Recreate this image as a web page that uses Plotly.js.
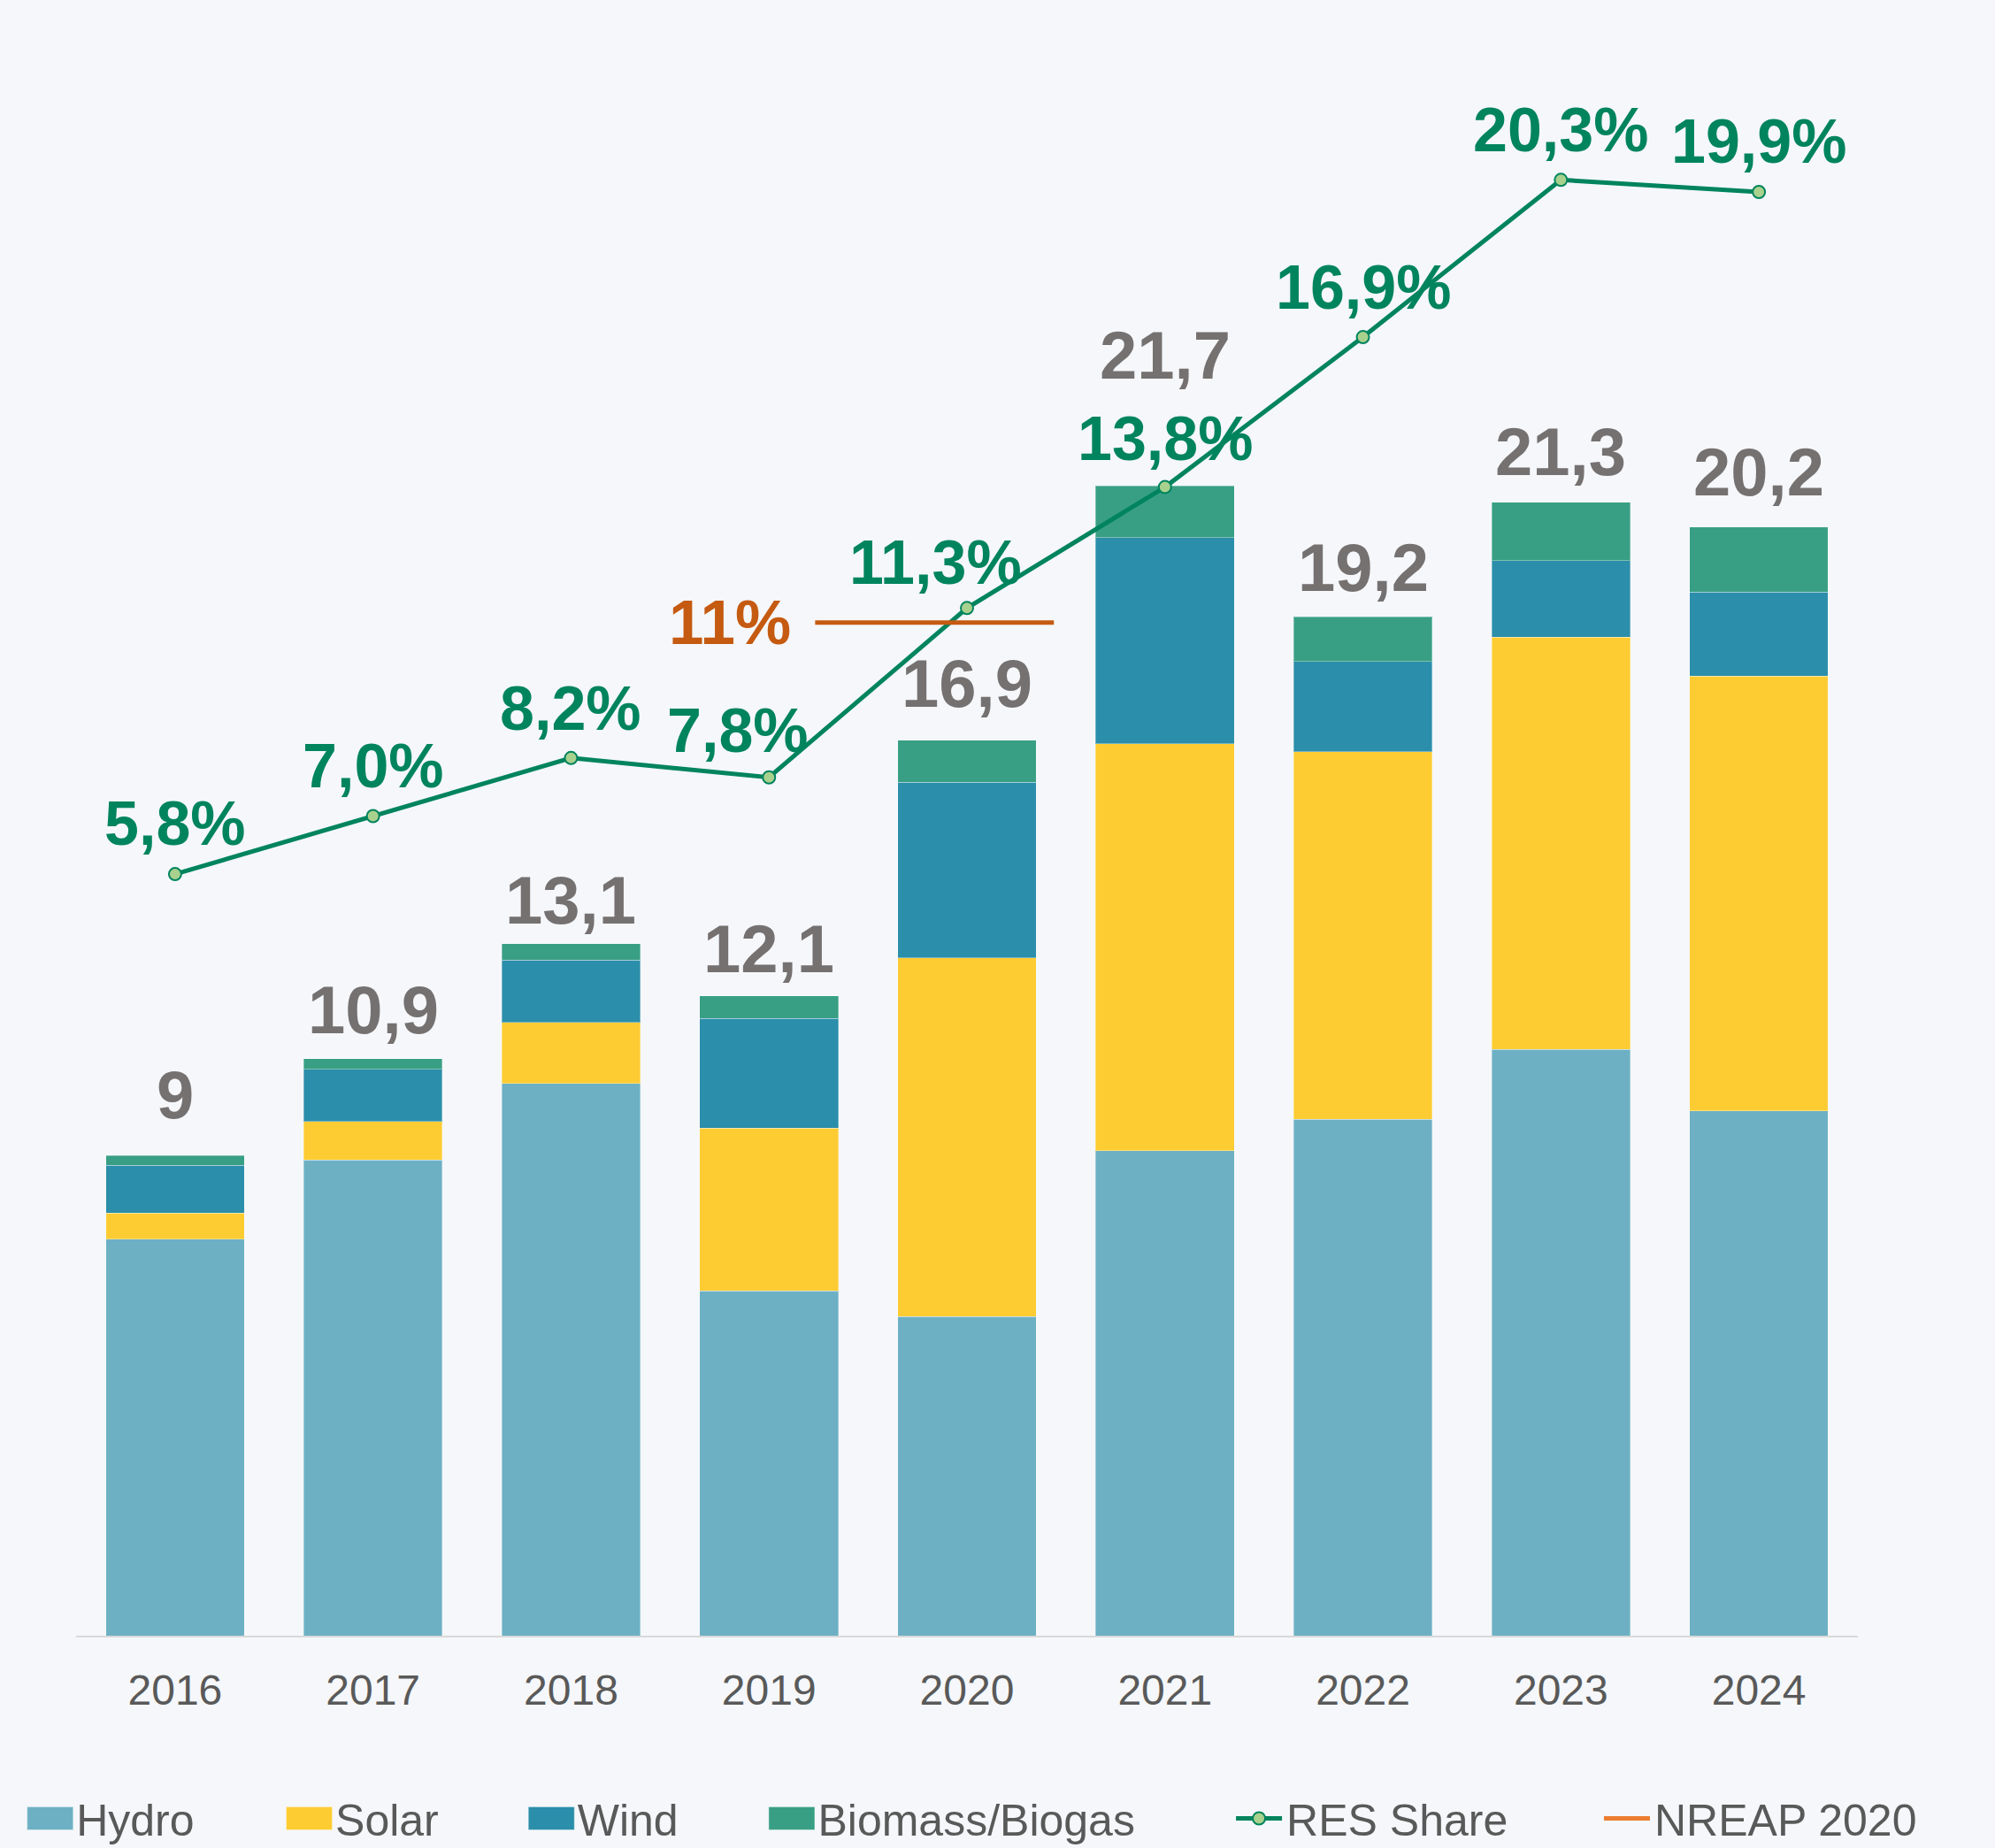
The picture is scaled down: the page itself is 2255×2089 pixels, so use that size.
<!DOCTYPE html>
<html>
<head>
<meta charset="utf-8">
<script src="https://cdn.plot.ly/plotly-3.0.1.min.js"></script>
<style>
  html, body { margin: 0; padding: 0; background: #F5F7FA; }
  #chart { width: 2255px; height: 2089px; }
</style>
</head>
<body>
<div id="chart"></div>
<script>
// ---------------- data ----------------
const years = ['2016', '2017', '2018', '2019', '2020', '2021', '2022', '2023', '2024'];
const hydro   = [7.47, 8.96, 10.40, 6.49, 6.01, 9.13, 9.72, 11.04, 9.88];
const solar   = [0.49, 0.72, 1.15, 3.07, 6.75, 7.66, 6.92, 7.76, 8.19];
const wind    = [0.90, 0.98, 1.17, 2.06, 3.31, 3.88, 1.70, 1.44, 1.58];
const biomass = [0.18, 0.20, 0.31, 0.43, 0.79, 0.98, 0.84, 1.10, 1.22];
const totalLabels = ['9', '10,9', '13,1', '12,1', '16,9', '21,7', '19,2', '21,3', '20,2'];
const resShare  = [5.8, 7.0, 8.2, 7.8, 11.3, 13.8, 16.9, 20.15, 19.9];
const resLabels = ['5,8%', '7,0%', '8,2%', '7,8%', '11,3%', '13,8%', '16,9%', '20,3%', '19,9%'];
const nreapTarget = 11;
const nreapLabel = '11%';
const nreapYear = '2020';

// ---------------- styles ----------------
const FONT = 'Liberation Sans, Arial, Helvetica, sans-serif';
const C = {
  hydro: '#6DB0C4', solar: '#FDCC33', wind: '#2B8EAA', biomass: '#389F85',
  res: '#00845E', resMarker: '#A9D18E', nreap: '#C55A11', nreapLegend: '#ED7D31',
  total: '#757171', axis: '#595959', bg: '#F5F7FA'
};
const segLine = { width: 1, color: 'rgba(255,255,255,0.35)' };
// label placement (pixels) – style only
const totalShift = [69, 55, 49, 53, 64, 148, 56, 57, 62];
const resShiftX = [0, 0, 0, -35, -36, 0, 0, 0, 0];
const resShiftY = [57, 56, 56, 53, 51, 55, 56, 56, 57];
const nreapSpan = { from: -0.767, to: 0.439 };   // relative to the 2020 slot

const totals = years.map((_, i) => hydro[i] + solar[i] + wind[i] + biomass[i]);
const nreapIdx = years.indexOf(nreapYear);

function barTrace(name, y, color, legendId) {
  return {
    type: 'bar', name: name, x: years, y: y,
    marker: { color: color, line: segLine },
    legend: legendId, hoverinfo: 'skip'
  };
}

const data = [
  barTrace('Hydro', hydro, C.hydro, 'legend'),
  barTrace('Solar', solar, C.solar, 'legend2'),
  barTrace('Wind', wind, C.wind, 'legend3'),
  barTrace('Biomass/Biogas', biomass, C.biomass, 'legend4'),
  {
    type: 'scatter', mode: 'lines+markers', name: 'RES Share',
    x: years, y: resShare, yaxis: 'y2',
    line: { color: C.res, width: 5 },
    marker: { size: 14, color: C.resMarker, line: { color: C.res, width: 2 } },
    legend: 'legend5', hoverinfo: 'skip'
  },
  {
    type: 'scatter', mode: 'lines', name: 'NREAP 2020', showlegend: false,
    x: [nreapIdx + nreapSpan.from, nreapIdx + nreapSpan.to],
    y: [nreapTarget, nreapTarget],
    xaxis: 'x2', yaxis: 'y2',
    line: { color: C.nreap, width: 5 }, hoverinfo: 'skip'
  },
  {
    type: 'scatter', mode: 'lines', name: 'NREAP 2020',
    x: [null], y: [null], xaxis: 'x2', yaxis: 'y2',
    line: { color: C.nreapLegend, width: 5 },
    legend: 'legend6', hoverinfo: 'skip'
  }
];

const annotations = [];
years.forEach((yr, i) => {
  annotations.push({
    x: i, y: totals[i], xref: 'x2', yref: 'y',
    text: totalLabels[i], showarrow: false,
    xanchor: 'center', yanchor: 'middle', yshift: totalShift[i],
    font: { family: FONT, size: 76, color: C.total, weight: 'bold' }
  });
  annotations.push({
    x: i, y: resShare[i], xref: 'x2', yref: 'y2',
    text: resLabels[i], showarrow: false,
    xanchor: 'center', yanchor: 'middle', xshift: resShiftX[i], yshift: resShiftY[i],
    font: { family: FONT, size: 70, color: C.res, weight: 'bold' }
  });
});
annotations.push({
  x: nreapIdx + nreapSpan.from, y: nreapTarget, xref: 'x2', yref: 'y2',
  text: nreapLabel, showarrow: false, xanchor: 'right', yanchor: 'middle',
  xshift: -25, font: { family: FONT, size: 71, color: C.nreap, weight: 'bold' }
});

function legendAt(x, iw) {
  return {
    orientation: 'h', x: x, xanchor: 'left', y: -0.0926, yanchor: 'top',
    bgcolor: 'rgba(0,0,0,0)', borderwidth: 0, itemwidth: iw,
    font: { family: FONT, size: 50, color: C.axis }
  };
}

const layout = {
  width: 2255, height: 2089,
  margin: { l: 86, r: 155, t: 40, b: 240, pad: 0, autoexpand: false },
  paper_bgcolor: C.bg, plot_bgcolor: C.bg,
  barmode: 'stack', bargap: 0.30,
  showlegend: true,
  xaxis: {
    type: 'category', range: [-0.5, 8.5], showline: true, linecolor: '#D9D9D9', linewidth: 2,
    ticks: '', showgrid: false, zeroline: false, ticklabelstandoff: 18,
    tickfont: { family: FONT, size: 48, color: C.axis }, fixedrange: true
  },
  xaxis2: { overlaying: 'x', range: [-0.5, 8.5], visible: false, fixedrange: true },
  yaxis: { range: [0, 30.13], visible: false, fixedrange: true },
  yaxis2: { overlaying: 'y', range: [-9.941, 23.136], visible: false, fixedrange: true },
  legend:  legendAt(-0.0292, 49),
  legend2: legendAt(0.1162, 49),
  legend3: legendAt(0.2521, 49),
  legend4: legendAt(0.3870, 49),
  legend5: legendAt(0.6485, 52),
  legend6: legendAt(0.8550, 52),
  annotations: annotations
};

Plotly.newPlot('chart', data, layout, { staticPlot: true, displayModeBar: false }).then(function (gd) {
  gd.querySelectorAll('g.legendpoints path').forEach(function (p) {
    const d = (p.getAttribute('d') || '').replace(/\s/g, '');
    if (d === 'M6,6H-6V-6H6Z') p.setAttribute('d', 'M26,13H-26V-13H26Z');
  });
});
</script>
</body>
</html>
